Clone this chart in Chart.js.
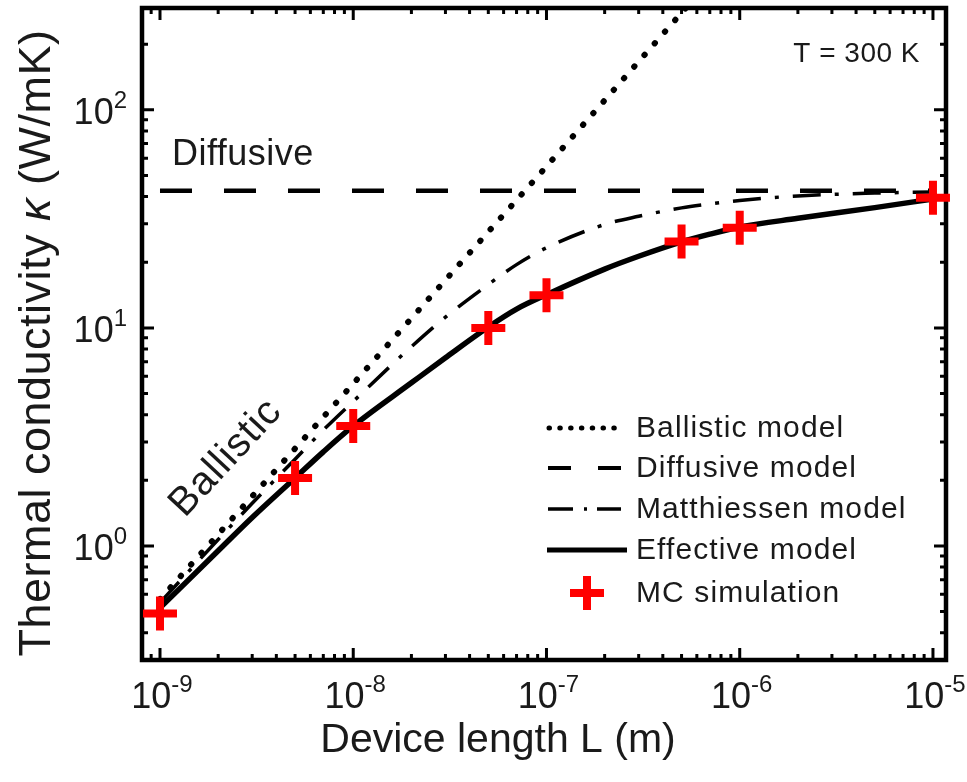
<!DOCTYPE html>
<html>
<head>
<meta charset="utf-8">
<script src="https://cdn.jsdelivr.net/npm/chart.js@4"></script>
<style>
  html, body { margin: 0; padding: 0; background: #fff; }
  #wrap { width: 967px; height: 782px; }
</style>
</head>
<body>
<div id="wrap"><canvas id="kappaChart" width="967" height="782"></canvas></div>
<script>
// values (L in metres, kappa in W/mK)
const modelL = [1e-9, 2e-9, 3e-9, 5e-9, 7e-9, 1e-8, 2e-8, 3e-8, 5e-8, 7e-8, 1e-7, 2e-7, 3e-7, 5e-7, 7e-7, 1e-6, 2e-6, 5e-6, 1e-5];
const matthiessenK = [0.55, 1.07, 1.57, 2.5, 3.4, 4.6, 8.2, 11.2, 15.8, 19.5, 23.3, 29.8, 32.5, 35.5, 37, 38.4, 40.3, 41.5, 42];
const effectiveK = [0.52, 0.95, 1.35, 2.05, 2.7, 3.55, 5.6, 7.3, 10.1, 12.2, 14.2, 18.6, 21.3, 24.8, 26.9, 29, 31.8, 35.6, 39];
const ballisticL = [1e-9, 1e-8, 1e-7, 1e-6];
const ballisticK = [0.57, 5.55, 55, 560];
const diffusiveL = [1e-9, 1e-5];
const diffusiveK = [42.5, 42.5];
const mcL = [1e-9, 5e-9, 1e-8, 5e-8, 1e-7, 5e-7, 1e-6, 1e-5];
const mcK = [0.49, 2.05, 3.55, 10, 14.1, 24.9, 28.8, 39.5];
const xTickExps = ['-9', '-8', '-7', '-6', '-5'];
const yTickExps = ['0', '1', '2'];

const FONT = '"Liberation Sans", Arial, sans-serif';

const pts = (xs, ys) => xs.map((x, i) => ({x: x, y: ys[i]}));

// draws "10" with a raised exponent; anchor is 'center' or 'right'
function drawPow(ctx, exp, x, baseY, anchor) {
    ctx.font = '36px ' + FONT;
    const w1 = ctx.measureText('10').width;
    ctx.font = '24px ' + FONT;
    const w2 = ctx.measureText(exp).width;
    const total = w1 + w2;
    const x0 = anchor === 'center' ? x - total / 2 : x - total;
    ctx.textAlign = 'left';
    ctx.textBaseline = 'alphabetic';
    ctx.font = '36px ' + FONT;
    ctx.fillText('10', x0, baseY);
    ctx.font = '24px ' + FONT;
    ctx.fillText(exp, x0 + w1, baseY - 16);
}

const noPad = (scale) => {
    scale.paddingTop = 0;
    scale.paddingBottom = 0;
    scale.paddingLeft = 0;
    scale.paddingRight = 0;
};

const framePlugin = {
    id: 'frame',
    beforeDatasetsDraw(chart) {
        const {ctx, chartArea: a, scales} = chart;
        const xs = scales.x, ys = scales.y;
        ctx.save();
        ctx.strokeStyle = '#000';
        ctx.lineCap = 'butt';
        // minor / major ticks, inward on all four sides
        ctx.lineWidth = 3;
        for (let e = -10; e <= -4; e++) {
            for (let m = 1; m <= 9; m++) {
                const v = m * Math.pow(10, e);
                if (v < xs.min || v > xs.max) continue;
                const px = xs.getPixelForValue(v);
                const len = m === 1 ? 12 : 6;
                ctx.beginPath();
                ctx.moveTo(px, a.bottom); ctx.lineTo(px, a.bottom - len);
                ctx.moveTo(px, a.top); ctx.lineTo(px, a.top + len);
                ctx.stroke();
            }
        }
        for (let e = -1; e <= 2; e++) {
            for (let m = 1; m <= 9; m++) {
                const v = m * Math.pow(10, e);
                if (v < ys.min || v > ys.max) continue;
                const py = ys.getPixelForValue(v);
                const len = m === 1 ? 12 : 6;
                ctx.beginPath();
                ctx.moveTo(a.left, py); ctx.lineTo(a.left + len, py);
                ctx.moveTo(a.right, py); ctx.lineTo(a.right - len, py);
                ctx.stroke();
            }
        }
        ctx.lineWidth = 4.5;
        ctx.strokeRect(a.left, a.top, a.right - a.left, a.bottom - a.top);
        ctx.restore();
    },
    afterDraw(chart) {
        const {ctx, scales} = chart;
        ctx.save();
        ctx.fillStyle = '#1a1a1a';

        // tick labels
        xTickExps.forEach(e => {
            const px = scales.x.getPixelForValue(Math.pow(10, Number(e)));
            drawPow(ctx, e, px + 2, 708, 'center');
        });
        yTickExps.forEach(e => {
            const py = scales.y.getPixelForValue(Math.pow(10, Number(e)));
            drawPow(ctx, e, 127, py + 14, 'right');
        });

        // axis titles
        ctx.font = '41px ' + FONT;
        ctx.textAlign = 'center';
        ctx.textBaseline = 'alphabetic';
        ctx.fillText('Device length L (m)', 498, 752);

        ctx.save();
        ctx.translate(50, 343);
        ctx.rotate(-Math.PI / 2);
        ctx.letterSpacing = '0.5px';
        const parts = [['Thermal conductivity ', '45px ' + FONT], ['\u03BA', 'italic 45px ' + FONT], [' (W/mK)', '45px ' + FONT]];
        let total = 0;
        parts.forEach(p => { ctx.font = p[1]; total += ctx.measureText(p[0]).width; });
        let cx = -total / 2;
        ctx.textAlign = 'left';
        parts.forEach(p => { ctx.font = p[1]; ctx.fillText(p[0], cx, 0); cx += ctx.measureText(p[0]).width; });
        ctx.restore();

        // annotations
        ctx.letterSpacing = '0.5px';
        ctx.font = '36px ' + FONT;
        ctx.textAlign = 'left';
        ctx.fillText('Diffusive', 172, 165);

        ctx.font = '28px ' + FONT;
        ctx.textAlign = 'right';
        ctx.fillText('T = 300 K', 920, 62);

        ctx.save();
        ctx.translate(226, 458);
        ctx.rotate(-47 * Math.PI / 180);
        ctx.letterSpacing = '1px';
        ctx.font = '40px ' + FONT;
        ctx.textAlign = 'center';
        ctx.textBaseline = 'middle';
        ctx.fillText('Ballistic', 0, 0);
        ctx.restore();

        // legend
        const rows = [428, 468, 509, 550, 593];
        ctx.strokeStyle = '#000';
        // ballistic: dots
        ctx.lineWidth = 5;
        ctx.lineCap = 'round';
        ctx.setLineDash([0.5, 10.3]);
        ctx.beginPath(); ctx.moveTo(549, rows[0]); ctx.lineTo(618, rows[0]); ctx.stroke();
        ctx.lineCap = 'butt';
        // diffusive: dashes
        ctx.lineWidth = 4;
        ctx.setLineDash([23, 27]);
        ctx.beginPath(); ctx.moveTo(548, rows[1]); ctx.lineTo(621, rows[1]); ctx.stroke();
        // matthiessen: dash-dot
        ctx.lineWidth = 3.5;
        ctx.setLineDash([25, 11, 3, 10, 24]);
        ctx.beginPath(); ctx.moveTo(548, rows[2]); ctx.lineTo(621, rows[2]); ctx.stroke();
        // effective: solid
        ctx.setLineDash([]);
        ctx.lineWidth = 5;
        ctx.beginPath(); ctx.moveTo(547, rows[3]); ctx.lineTo(627, rows[3]); ctx.stroke();
        // MC: red cross
        ctx.strokeStyle = '#ff0000';
        ctx.lineWidth = 8;
        ctx.beginPath();
        ctx.moveTo(570, rows[4]); ctx.lineTo(604, rows[4]);
        ctx.moveTo(587, rows[4] - 17); ctx.lineTo(587, rows[4] + 17);
        ctx.stroke();

        ctx.fillStyle = '#1a1a1a';
        ctx.font = '30px ' + FONT;
        ctx.letterSpacing = '1.1px';
        ctx.textAlign = 'left';
        ctx.textBaseline = 'middle';
        ['Ballistic model', 'Diffusive model', 'Matthiessen model', 'Effective model', 'MC simulation']
            .forEach((t, i) => ctx.fillText(t, 636, rows[i] + 1));
        ctx.restore();
    }
};

const ctx = document.getElementById('kappaChart').getContext('2d');

new Chart(ctx, {
    type: 'line',
    data: {
        datasets: [
            {
                label: 'MC simulation',
                data: pts(mcL, mcK),
                showLine: false,
                pointStyle: 'cross',
                pointRadius: 17,
                pointBorderWidth: 8,
                pointBorderColor: '#ff0000',
                pointBackgroundColor: '#ff0000',
                clip: false,
                order: 0
            },
            {
                label: 'Effective model',
                data: pts(modelL, effectiveK),
                borderColor: '#000',
                borderWidth: 5.5,
                pointRadius: 0,
                cubicInterpolationMode: 'monotone',
                order: 1
            },
            {
                label: 'Matthiessen model',
                data: pts(modelL, matthiessenK),
                borderColor: '#000',
                borderWidth: 3.5,
                borderDash: [28, 14, 4, 14],
                pointRadius: 0,
                cubicInterpolationMode: 'monotone',
                order: 2
            },
            {
                label: 'Diffusive model',
                data: pts(diffusiveL, diffusiveK),
                borderColor: '#000',
                borderWidth: 4.5,
                borderDash: [32, 32],
                pointRadius: 0,
                order: 3
            },
            {
                label: 'Ballistic model',
                data: pts(ballisticL, ballisticK),
                borderColor: '#000',
                borderWidth: 6,
                borderDash: [0.5, 15],
                borderCapStyle: 'round',
                pointRadius: 0,
                order: 4
            }
        ]
    },
    options: {
        responsive: false,
        animation: false,
        layout: {
            autoPadding: false,
            padding: {top: 8, right: 21, left: 0, bottom: 0}
        },
        plugins: {
            legend: {display: false},
            tooltip: {enabled: false},
            title: {display: false}
        },
        scales: {
            x: {
                type: 'logarithmic',
                min: 8.07e-10,
                max: 1.168e-5,
                grid: {display: false},
                border: {display: false},
                ticks: {display: false},
                afterFit: (scale) => { scale.height = 122; noPad(scale); }
            },
            y: {
                type: 'logarithmic',
                min: 0.304,
                max: 293,
                grid: {display: false},
                border: {display: false},
                ticks: {display: false},
                afterFit: (scale) => { scale.width = 142; noPad(scale); }
            }
        }
    },
    plugins: [framePlugin]
});
</script>
</body>
</html>
